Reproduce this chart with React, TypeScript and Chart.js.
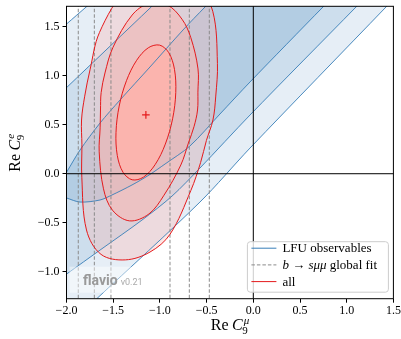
import React, { useEffect, useRef } from 'react';
import { Chart, registerables } from 'chart.js';

Chart.register(...registerables);

type P = [number, number];

// axes
const xRange: P = [-2.0, 1.5];
const yRange: P = [-1.275, 1.708];
const xTicks = [-2.0, -1.5, -1.0, -0.5, 0.0, 0.5, 1.0, 1.5];
const yTicks = [-1.0, -0.5, 0.0, 0.5, 1.0, 1.5];

// LFU observables: contour boundaries (closed outside the frame)
const lfu3: P[] = [
  [-2.4, 1.197], [-2.0, 1.527], [-1.781, 1.708], [-1.5, 1.94], [1.65, 1.93],
  [1.421, 1.701], [-0.035, 0.262], [-0.571, -0.289], [-1.677, -1.276],
  [-1.9, -1.475], [-2.4, -1.5],
];
const lfu2: P[] = [
  [-2.4, 0.515], [-2.0, 0.878], [-1.09, 1.704], [-0.9, 1.877], [1.3, 1.895],
  [1.1, 1.701], [-0.035, 0.599], [-0.571, 0.058], [-0.87, -0.228], [-1.192, -0.473],
  [-1.641, -0.779], [-1.998, -1.023], [-2.4, -1.3],
];
const lfu1: P[] = [
  [-0.335, 1.875], [-0.517, 1.701], [-0.753, 1.466], [-1.106, 1.089], [-1.427, 0.752],
  [-1.641, 0.517], [-1.855, 0.242], [-1.998, 0.017], [-2.059, -0.074], [-2.091, -0.156],
  [-2.059, -0.228], [-1.998, -0.248], [-1.855, -0.289], [-1.641, -0.268], [-1.513, -0.217],
  [-1.299, -0.115], [-1.116, -0.013], [-0.945, 0.099], [-0.678, 0.283], [-0.357, 0.609],
  [-0.035, 0.936], [0.746, 1.701], [0.928, 1.875],
];

// all observables: 1, 2, 3 sigma contours (closed curves)
const all1: P[] = [
  [-1.003, 1.312], [-1.124, 1.285], [-1.249, 1.157], [-1.358, 0.949], [-1.436, 0.69],
  [-1.47, 0.422], [-1.456, 0.185], [-1.395, 0.015], [-1.297, -0.062], [-1.176, -0.035],
  [-1.051, 0.093], [-0.942, 0.302], [-0.864, 0.56], [-0.83, 0.828], [-0.844, 1.065],
  [-0.905, 1.235],
];
const all2: P[] = [
  [-0.597, 0.65], [-0.634, 0.483], [-0.695, 0.312], [-0.776, 0.089], [-0.956, -0.219],
  [-1.117, -0.41], [-1.325, -0.481], [-1.508, -0.372], [-1.604, -0.154], [-1.65, 0.223],
  [-1.64, 0.468], [-1.636, 0.65], [-1.629, 0.828], [-1.588, 1.028], [-1.503, 1.288],
  [-1.297, 1.619], [-1.117, 1.737], [-0.919, 1.72], [-0.763, 1.576], [-0.669, 1.388],
  [-0.592, 1.069], [-0.593, 0.832],
];
const all3: P[] = [
  [-0.432, 0.548], [-0.502, 0.339], [-0.564, 0.115], [-0.669, -0.172], [-0.891, -0.617],
  [-1.106, -0.799], [-1.37, -0.879], [-1.63, -0.823], [-1.786, -0.574], [-1.836, -0.036],
  [-1.835, 0.295], [-1.839, 0.548], [-1.805, 0.791], [-1.748, 1.061], [-1.647, 1.441],
  [-1.357, 1.905], [-1.106, 2.079], [-0.828, 2.055], [-0.593, 1.891], [-0.434, 1.657],
  [-0.384, 1.126], [-0.402, 0.792],
];
const bestFit: P = [-1.15, 0.6];

// b -> s mu mu global fit: 1D intervals (3s, 2s, 1s lower; 1s, 2s, 3s upper)
const globalFit = [-1.874, -1.702, -1.524, -0.892, -0.685, -0.471];

const BLUE = '#377eb8';
const RED = '#e41a1c';
const GRAY = '#8a8a8a';
const SERIF = '"Liberation Serif", "DejaVu Serif", serif';

const toXY = (a: P[]) => a.map(([x, y]) => ({ x, y }));
const loop = (a: P[]) => [...a, a[0]];
const fmt = (v: number) => (v < 0 ? '\u2212' : '') + Math.abs(v).toFixed(1);

type Part = { t: string; f: string };
function drawParts(ctx: CanvasRenderingContext2D, parts: Part[], x: number, y: number) {
  for (const p of parts) {
    ctx.font = p.f;
    ctx.fillText(p.t, x, y);
    x += ctx.measureText(p.t).width;
  }
  return x;
}

function drawMathLabel(ctx: CanvasRenderingContext2D, cx: number, base: number, sub: string, sup: string) {
  const up = `16px ${SERIF}`;
  const it = `italic 16px ${SERIF}`;
  const sm = `11px ${SERIF}`;
  const smIt = `italic 11px ${SERIF}`;
  ctx.font = up;
  const wRe = ctx.measureText('Re').width;
  const sp = 3.5;
  ctx.font = it;
  const wC = ctx.measureText('C').width;
  ctx.font = sm;
  const wSub = ctx.measureText(sub).width;
  ctx.font = smIt;
  const wSup = ctx.measureText(sup).width;
  const total = wRe + sp + wC + 1 + Math.max(wSub, wSup);
  let x = cx - total / 2;
  ctx.fillStyle = '#000';
  ctx.textAlign = 'left';
  ctx.textBaseline = 'alphabetic';
  ctx.font = up;
  ctx.fillText('Re', x, base);
  x += wRe + sp;
  ctx.font = it;
  ctx.fillText('C', x, base);
  x += wC;
  ctx.font = sm;
  ctx.fillText(sub, x - 0.5, base + 3.5);
  ctx.font = smIt;
  ctx.fillText(sup, x + 1, base - 6.5);
}

const legendEntries: { parts: (f: string, fi: string) => Part[]; color: string; dash: number[] }[] = [
  { parts: (f) => [{ t: 'LFU observables', f }], color: BLUE, dash: [] },
  {
    parts: (f, fi) => [
      { t: 'b', f: fi }, { t: ' \u2192 ', f }, { t: 's\u03bc\u03bc', f: fi }, { t: ' global fit', f },
    ],
    color: GRAY,
    dash: [3.5, 2],
  },
  { parts: (f) => [{ t: 'all', f }], color: RED, dash: [] },
];

// make flagged datasets closed smooth curves (like radar lines)
const closer = {
  id: 'closer',
  afterDatasetUpdate(chart: any, args: any) {
    const ds = chart.data.datasets[args.index];
    if (ds && ds.closed && args.meta && args.meta.dataset) {
      args.meta.dataset._loop = true;
      args.meta.dataset._fullLoop = true;
    }
  },
};

const decor = {
  id: 'decor',
  afterDatasetsDraw(chart: any) {
    const { ctx, chartArea: a } = chart;
    ctx.save();
    // frame
    ctx.strokeStyle = '#000';
    ctx.lineWidth = 1;
    ctx.setLineDash([]);
    ctx.strokeRect(a.left, a.top, a.right - a.left, a.bottom - a.top);

    // watermark
    ctx.fillStyle = 'rgba(255,255,255,0.45)';
    ctx.fillRect(a.left + 3, a.bottom - 32, 76, 26);
    ctx.textAlign = 'left';
    ctx.textBaseline = 'alphabetic';
    ctx.fillStyle = '#999999';
    ctx.font = 'bold 14px Roboto, "Liberation Sans", sans-serif';
    ctx.fillText('flavio', a.left + 16.5, a.bottom - 13.7);
    const wf = ctx.measureText('flavio').width;
    ctx.font = '9px Roboto, "Liberation Sans", sans-serif';
    ctx.fillStyle = '#aaaaaa';
    ctx.fillText('v0.21', a.left + 16.5 + wf + 3, a.bottom - 13.7);

    // legend
    const x1 = a.right - 5, y1 = a.bottom - 6.5;
    const x0 = x1 - 141, y0 = y1 - 50.5;
    const r = 3;
    ctx.beginPath();
    ctx.moveTo(x0 + r, y0);
    ctx.lineTo(x1 - r, y0);
    ctx.quadraticCurveTo(x1, y0, x1, y0 + r);
    ctx.lineTo(x1, y1 - r);
    ctx.quadraticCurveTo(x1, y1, x1 - r, y1);
    ctx.lineTo(x0 + r, y1);
    ctx.quadraticCurveTo(x0, y1, x0, y1 - r);
    ctx.lineTo(x0, y0 + r);
    ctx.quadraticCurveTo(x0, y0, x0 + r, y0);
    ctx.closePath();
    ctx.fillStyle = 'rgba(255,255,255,0.8)';
    ctx.fill();
    ctx.strokeStyle = '#cccccc';
    ctx.lineWidth = 1;
    ctx.stroke();

    const f = `13px ${SERIF}`;
    const fi = `italic 13px ${SERIF}`;
    legendEntries.forEach((e, i) => {
      const yc = y0 + 6.5 + i * 16.7;
      ctx.beginPath();
      ctx.setLineDash(e.dash);
      ctx.strokeStyle = e.color;
      ctx.lineWidth = 1;
      ctx.moveTo(x0 + 4, yc);
      ctx.lineTo(x0 + 29, yc);
      ctx.stroke();
      ctx.setLineDash([]);
      ctx.fillStyle = '#000';
      ctx.textAlign = 'left';
      ctx.textBaseline = 'alphabetic';
      drawParts(ctx, e.parts(f, fi), x0 + 35, yc + 4.2);
    });
    ctx.restore();
  },
  afterDraw(chart: any) {
    const { ctx, chartArea: a } = chart;
    ctx.save();
    drawMathLabel(ctx, (a.left + a.right) / 2, 330, '9', '\u03bc');
    ctx.translate(20, (a.top + a.bottom) / 2);
    ctx.rotate(-Math.PI / 2);
    drawMathLabel(ctx, 0, 0, '9', 'e');
    ctx.restore();
  },
};

export default function App() {
  const ref = useRef<HTMLCanvasElement>(null);
  useEffect(() => {
    const canvas = ref.current;
    if (!canvas) return;

    const fillDs = (data: P[], color: string, order: number, tension: number, closed = false) => ({
      data: toXY(data),
      closed,
      showLine: true,
      fill: 'shape',
      backgroundColor: color,
      borderColor: 'rgba(0,0,0,0)',
      borderWidth: 0,
      pointRadius: 0,
      tension,
      order,
      capBezierPoints: false,
    });
    const lineDs = (
      data: P[], color: string, order: number, tension: number, width = 1, dash: number[] = [], closed = false,
    ) => ({
      data: toXY(data),
      closed,
      showLine: true,
      fill: false,
      borderColor: color,
      backgroundColor: color,
      borderWidth: width,
      borderDash: dash,
      pointRadius: 0,
      tension,
      order,
      capBezierPoints: false,
    });

    const datasets: any[] = [
      fillDs(loop(lfu3), '#e6eef6', 30, 0.3),
      fillDs(loop(lfu2), '#cddeed', 29, 0.3),
      fillDs(loop(lfu1), '#b3cde3', 28, 0.3),
      fillDs(all3, 'rgba(251,180,174,0.333)', 27, 0.35, true),
      fillDs(all2, 'rgba(251,180,174,0.5)', 26, 0.35, true),
      fillDs(all1, '#fbb4ae', 25, 0.34, true),
      lineDs(loop(lfu3), BLUE, 20, 0.3, 0.9),
      lineDs(loop(lfu2), BLUE, 20, 0.3, 0.9),
      lineDs(loop(lfu1), BLUE, 20, 0.3, 0.9),
      ...globalFit.map((v) => lineDs([[v, -2], [v, 2.5]], GRAY, 15, 0, 1, [3.5, 2])),
      lineDs(all3, RED, 10, 0.35, 1, [], true),
      lineDs(all2, RED, 10, 0.35, 1, [], true),
      lineDs(all1, RED, 10, 0.34, 1, [], true),
      lineDs([[-3, 0], [3, 0]], '#000', 8, 0, 1),
      lineDs([[0, -3], [0, 3]], '#000', 8, 0, 1),
      {
        data: toXY([bestFit]),
        showLine: false,
        pointStyle: 'cross',
        pointRadius: 3.8,
        pointBorderColor: RED,
        borderColor: RED,
        pointBorderWidth: 1.2,
        borderWidth: 1.2,
        order: 5,
      },
    ];

    const tickFont = { family: SERIF, size: 12 };
    const chart = new Chart(canvas, {
      type: 'scatter',
      data: { datasets },
      plugins: [closer as any, decor as any],
      options: {
        animation: false,
        responsive: true,
        maintainAspectRatio: false,
        events: [],
        layout: { padding: { left: 0, top: 6.3, right: 7.6, bottom: 0 } },
        plugins: { legend: { display: false }, tooltip: { enabled: false } },
        elements: { line: { capBezierPoints: false } as any },
        scales: {
          x: {
            type: 'linear',
            min: xRange[0],
            max: xRange[1],
            afterBuildTicks: (s: any) => {
              s.ticks = xTicks.map((v) => ({ value: v }));
            },
            afterFit: (s: any) => {
              s.height = 40.3;
              s.paddingLeft = 0;
              s.paddingRight = 0;
            },
            ticks: {
              callback: (v: any) => fmt(Number(v)),
              font: tickFont,
              color: '#000',
              padding: 1,
              maxRotation: 0,
              autoSkip: false,
            },
            grid: { display: true, drawOnChartArea: false, drawTicks: true, tickLength: 4, tickColor: '#000', tickWidth: 1 },
            border: { display: false },
          },
          y: {
            type: 'linear',
            min: yRange[0],
            max: yRange[1],
            afterBuildTicks: (s: any) => {
              s.ticks = yTicks.map((v) => ({ value: v }));
            },
            afterFit: (s: any) => {
              s.width = 66.5;
              s.paddingTop = 0;
              s.paddingBottom = 0;
            },
            ticks: {
              callback: (v: any) => fmt(Number(v)),
              font: tickFont,
              color: '#000',
              padding: 3,
              autoSkip: false,
            },
            grid: { display: true, drawOnChartArea: false, drawTicks: true, tickLength: 4, tickColor: '#000', tickWidth: 1 },
            border: { display: false },
          },
        },
      } as any,
    });
    return () => chart.destroy();
  }, []);

  return (
    <div style={{ position: 'fixed', left: 0, top: 0, width: 401, height: 339, background: '#fff' }}>
      <canvas ref={ref} style={{ display: 'block' }} />
    </div>
  );
}
